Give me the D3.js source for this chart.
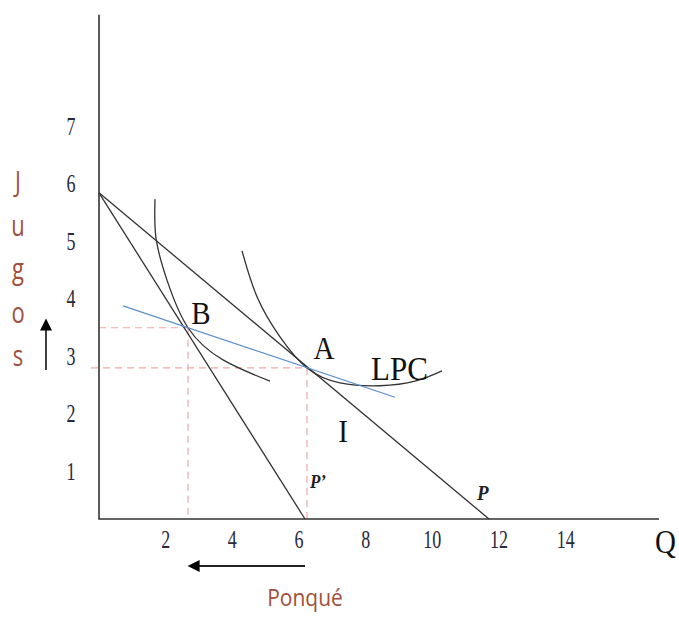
<!DOCTYPE html>
<html>
<head>
<meta charset="utf-8">
<script src="https://cdn.jsdelivr.net/npm/d3@7"></script>
<style>
  body { margin: 0; background: #fff; }
  svg text { font-family: "Liberation Serif", "Times New Roman", serif; }
</style>
</head>
<body>
<div id="vis"></div>
<script>
// tick labels
var xTicks = [2, 4, 6, 8, 10, 12, 14];
var yTicks = [1, 2, 3, 4, 5, 6, 7];

// budget lines (intercepts on each axis)
var yIntercept = 5.68;
var budgetP = [[0, yIntercept], [11.7, 0]];
var budgetP2 = [[0, yIntercept], [6.18, 0]];

// indifference curves
var curve1 = [[1.68, 5.57], [1.71, 4.89], [2.04, 4.16], [2.67, 3.33], [3.72, 2.77], [5.13, 2.40]];
var curve2 = [[4.29, 4.67], [4.74, 3.87], [5.43, 3.17], [6.24, 2.63], [7.23, 2.37], [8.43, 2.32], [9.48, 2.40], [10.29, 2.58]];

// price consumption line
var lpc = [[0.72, 3.71], [8.88, 2.12]];

// equilibrium points
var pointB = [2.67, 3.33];
var pointA = [6.24, 2.63];

var xMax = 16.8, yMax = 8.78;

var svg = d3.select("#vis").append("svg").attr("width", 679).attr("height", 617);

var x = d3.scaleLinear().domain([0, 15]).range([99, 599]);
var y = d3.scaleLinear().domain([0, 7]).range([519, 117]);

var line = d3.line().x(function(d){ return x(d[0]); }).y(function(d){ return y(d[1]); });
var smooth = d3.line().x(function(d){ return x(d[0]); }).y(function(d){ return y(d[1]); }).curve(d3.curveNatural);

// text in the picture is a bit taller than wide, so stretch it vertically
function label(px, py, sy, size, txt){
    return svg.append("text")
        .attr("transform", "translate(" + px + "," + py + ") scale(1," + sy + ")")
        .attr("font-size", size).text(txt);
}

// dashed guides
var guides = [
    [[0, pointB[1]], pointB], [pointB, [pointB[0], 0]],
    [[-0.24, pointA[1]], pointA], [pointA, [pointA[0], 0]]
];
svg.selectAll(".guide").data(guides).enter().append("path")
    .attr("class", "guide")
    .attr("d", line)
    .attr("fill", "none").attr("stroke", "#f2a7a7").attr("stroke-width", 1.2)
    .attr("stroke-dasharray", "7,5");

// axes
svg.append("path").attr("d", line([[0, yMax], [0, 0], [xMax, 0]]))
    .attr("fill", "none").attr("stroke", "#333").attr("stroke-width", 1.6);

// budget lines
svg.selectAll(".budget").data([budgetP, budgetP2]).enter().append("path")
    .attr("class", "budget")
    .attr("d", line)
    .attr("fill", "none").attr("stroke", "#333").attr("stroke-width", 1.3);

// indifference curves
svg.selectAll(".ic").data([curve1, curve2]).enter().append("path")
    .attr("class", "ic")
    .attr("d", smooth)
    .attr("fill", "none").attr("stroke", "#333").attr("stroke-width", 1.3);

// LPC line
svg.append("path").attr("d", line(lpc))
    .attr("fill", "none").attr("stroke", "#5a8fcc").attr("stroke-width", 1.3);

// tick labels
xTicks.forEach(function(d){
    label(x(d), 548, 1.4, 18, d).attr("text-anchor", "middle").attr("fill", "#2a2a3c");
});
yTicks.forEach(function(d){
    label(71, y(d) + 18, 1.4, 18, d).attr("text-anchor", "middle").attr("fill", "#2a2a3c");
});

// point labels
label(x(pointB[0]) + 13, y(pointB[1]) - 4, 1.12, 29, "B").attr("text-anchor", "middle").attr("fill", "#111");
label(x(pointA[0]) + 17, y(pointA[1]) - 9, 1.12, 29, "A").attr("text-anchor", "middle").attr("fill", "#111");
label(371, 380, 1.08, 31, "LPC").attr("fill", "#111");
label(343, 442, 1.12, 29, "I").attr("text-anchor", "middle").attr("fill", "#111");
label(310, 488, 1.15, 17, "P\u2019").attr("font-style", "italic").attr("font-weight", "bold").attr("fill", "#222");
label(477, 500, 1.15, 19, "P").attr("font-style", "italic").attr("font-weight", "bold").attr("fill", "#222");
label(655, 553, 1.15, 29, "Q").attr("fill", "#111");

// axis titles
var jugos = ["J", "u", "g", "o", "s"];
jugos.forEach(function(d, i){
    label(18, 192 + i * 43.5, 1.3, 22, d).attr("text-anchor", "middle")
        .style("font-family", "'Open Sans', sans-serif").attr("fill", "#a0503c");
});
label(305, 606, 1.15, 21, "Ponqué").attr("text-anchor", "middle")
    .style("font-family", "'Open Sans', sans-serif").attr("fill", "#a0503c");

// arrows
var defs = svg.append("defs");
defs.append("marker").attr("id", "head").attr("viewBox", "0 0 10 10")
    .attr("refX", 8).attr("refY", 5).attr("markerWidth", 8).attr("markerHeight", 8)
    .attr("markerUnits", "userSpaceOnUse").attr("orient", "auto")
    .append("path").attr("d", "M0,0L10,5L0,10z").attr("fill", "#000");
defs.append("marker").attr("id", "head2").attr("viewBox", "0 0 10 10")
    .attr("refX", 8).attr("refY", 5).attr("markerWidth", 13).attr("markerHeight", 12)
    .attr("markerUnits", "userSpaceOnUse").attr("orient", "auto")
    .append("path").attr("d", "M0,0L10,5L0,10z").attr("fill", "#000");
svg.append("line").attr("x1", 46).attr("y1", 370).attr("x2", 46).attr("y2", 321)
    .attr("stroke", "#000").attr("stroke-width", 1.5).attr("marker-end", "url(#head2)");
svg.append("line").attr("x1", 305).attr("y1", 566).attr("x2", 190).attr("y2", 566)
    .attr("stroke", "#222").attr("stroke-width", 1.8).attr("marker-end", "url(#head2)");
</script>
</body>
</html>
